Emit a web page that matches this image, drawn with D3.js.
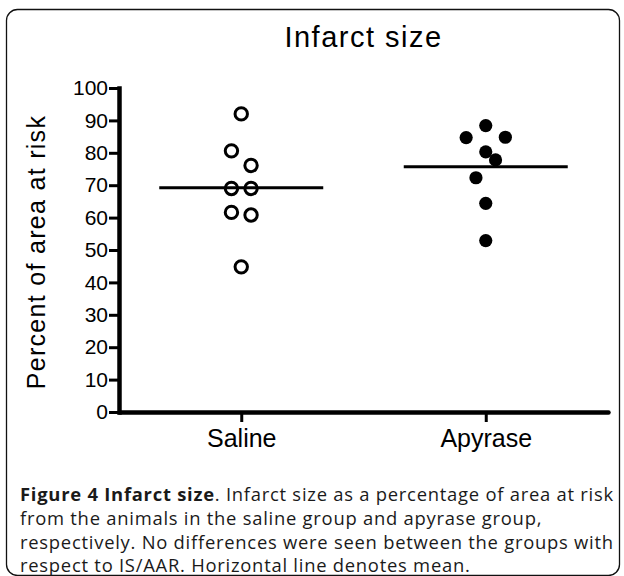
<!DOCTYPE html>
<html>
<head>
<meta charset="utf-8">
<script src="https://cdn.jsdelivr.net/npm/d3@7"></script>
<style>
  html, body { margin: 0; padding: 0; background: #fff; }
  svg { display: block; }
</style>
</head>
<body>
<svg id="chart" width="624" height="576"></svg>
<script>
// ---- data ----
const categories = ["Saline", "Apyrase"];
const salineValues = [92.0, 80.6, 76.1, 69.0, 69.0, 61.6, 60.8, 44.8];
const salineSlots = [0, -1, 1, -1, 1, -1, 1, 0];
const apyraseValues = [88.4, 84.7, 84.8, 80.3, 77.8, 72.3, 64.4, 52.9];
const apyraseSlots = [0, -2, 2, 0, 1, -1, 0, 0];
const yTickValues = [0, 10, 20, 30, 40, 50, 60, 70, 80, 90, 100];
const titleText = "Infarct size";
const yLabelText = "Percent of area at risk";
const captionBold = "Figure 4 Infarct size";
const captionLines = [
  ". Infarct size as a percentage of area at risk",
  "from the animals in the saline group and apyrase group,",
  "respectively. No differences were seen between the groups with",
  "respect to IS/AAR. Horizontal line denotes mean."
];

const groups = [
  { name: categories[0], values: salineValues, slots: salineSlots, filled: false },
  { name: categories[1], values: apyraseValues, slots: apyraseSlots, filled: true }
];

// ---- layout ----
const svg = d3.select("#chart");
const plotLeft = 119, plotRight = 608, plotTop = 88, plotBottom = 412;
const slotW = 9.8;
const sansFont = "'Liberation Sans', Arial, Helvetica, sans-serif";

svg.append("rect").attr("x", 0).attr("y", 0).attr("width", 624).attr("height", 576).attr("fill", "#fff");

// outer rounded frame
svg.append("rect")
  .attr("x", 6.5).attr("y", 9.5).attr("width", 613).attr("height", 566)
  .attr("rx", 11).attr("ry", 11)
  .attr("fill", "none").attr("stroke", "#111").attr("stroke-width", 1.3);

const x = d3.scalePoint().domain(categories).range([plotLeft, plotRight]).padding(0.5);
const y = d3.scaleLinear().domain([0, 100]).range([plotBottom, plotTop]);

// title
svg.append("text")
  .attr("x", (plotLeft + plotRight) / 2).attr("y", 47)
  .attr("text-anchor", "middle")
  .attr("font-family", sansFont).attr("font-size", 29)
  .attr("letter-spacing", 1.5)
  .attr("fill", "#000")
  .text(titleText);

// y axis label
svg.append("text")
  .attr("transform", `translate(45,${(plotTop + plotBottom) / 2 + 2}) rotate(-90)`)
  .attr("text-anchor", "middle")
  .attr("font-family", sansFont).attr("font-size", 25)
  .attr("letter-spacing", 1.3)
  .attr("fill", "#000")
  .text(yLabelText);

// y axis
const yAxis = svg.append("g")
  .attr("transform", `translate(${plotLeft},0)`)
  .call(d3.axisLeft(y).tickValues(yTickValues).tickSize(10).tickSizeOuter(0).tickPadding(1));
yAxis.select(".domain").attr("stroke", "#000").attr("stroke-width", 4.5).attr("stroke-linecap", "square");
yAxis.selectAll(".tick line").attr("stroke", "#000").attr("stroke-width", 3);
yAxis.selectAll(".tick text").attr("font-family", sansFont).attr("font-size", 21).attr("fill", "#000");

// x axis
const xAxis = svg.append("g")
  .attr("transform", `translate(0,${plotBottom})`)
  .call(d3.axisBottom(x).tickSize(10).tickSizeOuter(0).tickPadding(7));
xAxis.select(".domain").attr("stroke", "#000").attr("stroke-width", 4.5).attr("stroke-linecap", "round");
xAxis.selectAll(".tick line").attr("stroke", "#000").attr("stroke-width", 3);
xAxis.selectAll(".tick text").attr("font-family", sansFont).attr("font-size", 25).attr("fill", "#000");

// mean lines
const halfLine = 82;
svg.append("g").selectAll("line")
  .data(groups)
  .join("line")
  .attr("x1", d => x(d.name) - halfLine)
  .attr("x2", d => x(d.name) + halfLine)
  .attr("y1", d => y(d3.mean(d.values)))
  .attr("y2", d => y(d3.mean(d.values)))
  .attr("stroke", "#000").attr("stroke-width", 3);

// points
groups.forEach(g => {
  svg.append("g").selectAll("circle")
    .data(g.values.map((v, i) => ({ v, s: g.slots[i] })))
    .join("circle")
    .attr("cx", d => x(g.name) + d.s * slotW)
    .attr("cy", d => y(d.v))
    .attr("r", g.filled ? 6.6 : 6.2)
    .attr("fill", g.filled ? "#000" : "#fff")
    .attr("fill-opacity", g.filled ? 1 : 0)
    .attr("stroke", g.filled ? "none" : "#000")
    .attr("stroke-width", 3);
});

// caption
const capFont = "'Open Sans', 'Noto Sans', sans-serif";
const cap = svg.append("text")
  .attr("font-family", capFont).attr("font-size", 18.4)
  .attr("letter-spacing", 0.75).attr("fill", "#1a1a1a");
const baselines = [501, 525, 549, 572];
cap.append("tspan").attr("font-weight", "bold").attr("x", 20).attr("y", baselines[0]).text(captionBold);
cap.append("tspan").text(captionLines[0]);
captionLines.slice(1).forEach((t, i) => {
  cap.append("tspan").attr("x", 20).attr("y", baselines[i + 1]).text(t);
});
</script>
</body>
</html>
